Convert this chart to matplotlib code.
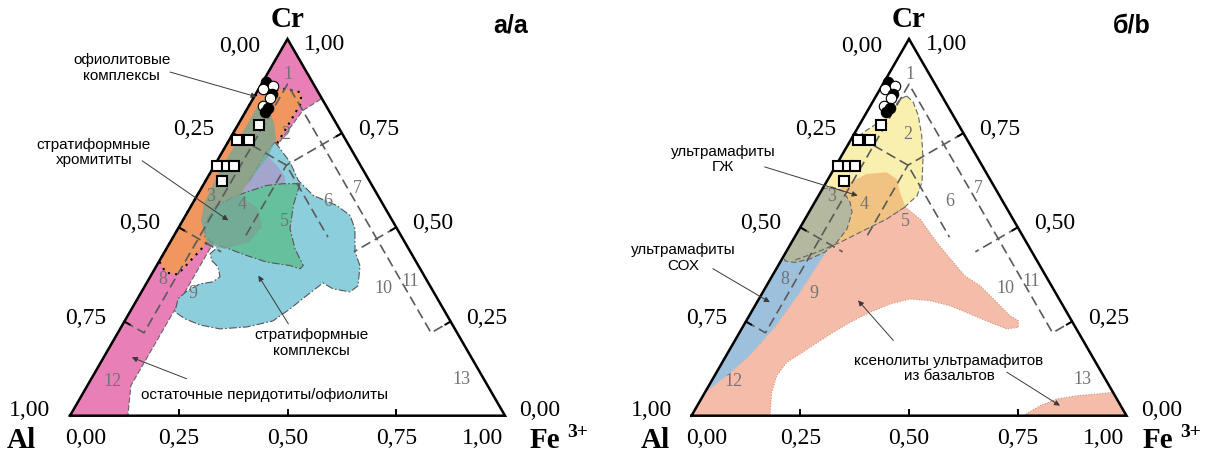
import numpy as np
import matplotlib.pyplot as plt
from matplotlib.patches import Polygon

plt.rcParams['font.family'] = ['Liberation Sans', 'DejaVu Sans']
SERIF = ['Liberation Serif', 'DejaVu Serif']
H = np.sqrt(3) / 2

# every composition below is (Fe3+, Cr) fraction, Al = 1 - Fe3+ - Cr
ticks = [0.0, 0.25, 0.5, 0.75, 1.0]
tick_labels = ["0,00", "0,25", "0,50", "0,75", "1,00"]

field_ids = ["1", "2", "3", "4", "5", "6", "7", "8", "9", "10", "11", "12", "13"]
field_id_fe = [0.048, 0.122, 0.03, 0.115, 0.233, 0.308, 0.356, 0.033, 0.118, 0.55, 0.603, 0.051, 0.851]
field_id_cr = [0.908, 0.748, 0.585, 0.562, 0.518, 0.571, 0.607, 0.363, 0.328, 0.341, 0.358, 0.093, 0.0975]

# dashed boundaries of the numbered fields
bound_fe = [[0.0, 0.06, 0.06, 0.72, 0.75], [0.0, 0.13], [0.5, 0.435],
            [0.25, 0.165, 0.165], [0.06, 0.165, 0.356]]
bound_cr = [[0.25, 0.22, 0.88, 0.22, 0.25], [0.5, 0.435], [0.5, 0.435],
            [0.75, 0.665, 0.474], [0.7175, 0.665, 0.474]]

# samples
square_fe = [0.049, 0.018, 0.045, 0.006, 0.029, 0.045, 0.039]
square_cr = [0.7725, 0.731, 0.731, 0.662, 0.662, 0.662, 0.622]
circle_fe = [0.008, 0.030, 0.011, 0.036, 0.038, 0.032, 0.047, 0.045]
circle_cr = [0.886, 0.875, 0.866, 0.855, 0.8435, 0.822, 0.817, 0.806]
circle_filled = [True, False, False, True, False, False, True, True]

# --- panel a fields
pink_fe = [0.0, 0.158, 0.13, 0.115, 0.10, 0.10, 0.133, 0.0]
pink_cr = [1.0, 0.842, 0.81, 0.70, 0.44, 0.08, 0.0, 0.0]
orange_fe = [0.0, 0.056, 0.099, 0.116, 0.116, 0.115, 0.11, 0.095, 0.08, 0.06, 0.03, 0.0]
orange_cr = [0.85, 0.868, 0.859, 0.833, 0.80, 0.735, 0.6, 0.5, 0.44, 0.375, 0.38, 0.41]
strat_fe = [0.108, 0.169, 0.2126, 0.267, 0.334, 0.378, 0.407, 0.4377, 0.4678, 0.4897, 0.4793,
            0.4362, 0.4053, 0.3825, 0.364, 0.3408, 0.289, 0.2296, 0.1784, 0.1359, 0.1036,
            0.0932, 0.1033, 0.1239, 0.151, 0.1605, 0.1426, 0.1209, 0.107, 0.114, 0.115,
            0.101, 0.1006]
strat_cr = [0.7265, 0.6734, 0.6245, 0.5846, 0.5581, 0.5315, 0.4961, 0.435, 0.3978, 0.3447, 0.3287,
            0.3367, 0.3526, 0.3154, 0.2835, 0.2517, 0.2357, 0.2304, 0.241, 0.257, 0.2756,
            0.3101, 0.3314, 0.35, 0.3553, 0.3686, 0.3952, 0.4111, 0.4297, 0.443, 0.4829,
            0.6025, 0.6955]
lav_fe = [0.1115, 0.1477, 0.1771, 0.1878, 0.1466, 0.1094, 0.0989, 0.0984, 0.1051]
lav_cr = [0.6875, 0.6609, 0.6344, 0.6131, 0.6112, 0.5937, 0.5839, 0.6078, 0.645]
green_fe = [0.2208, 0.1818, 0.1466, 0.1094, 0.0852, 0.056, 0.0556, 0.0729, 0.0953, 0.1189,
            0.1936, 0.2484, 0.3064, 0.3338, 0.337, 0.2957, 0.2577, 0.2343]
green_cr = [0.6158, 0.6158, 0.6112, 0.5937, 0.5804, 0.5546, 0.5094, 0.4749, 0.4608, 0.4518,
            0.4252, 0.4077, 0.3986, 0.3898, 0.3986, 0.443, 0.4961, 0.5581]
chrom_fe = [0.0219, 0.045, 0.0814, 0.106, 0.1115, 0.1051, 0.0984, 0.0989, 0.1575, 0.1906,
            0.183, 0.1348, 0.0904, 0.0424, 0.0267, 0.0225, 0.019, 0.0199, 0.021, 0.0205]
chrom_cr = [0.839, 0.8204, 0.7752, 0.7353, 0.6875, 0.645, 0.6078, 0.5839, 0.5493, 0.5015,
            0.4616, 0.443, 0.4536, 0.5174, 0.5626, 0.6078, 0.6609, 0.7141, 0.7672, 0.8097]

# --- panel b fields
yellow_fe = [0.0705, 0.0939, 0.1232, 0.1576, 0.1914, 0.2197, 0.2268, 0.2187, 0.2138, 0.1876,
             0.149, 0.1114, 0.0709, 0.0283, 0.0, 0.0, 0.0193, 0.0527, 0.059]
yellow_cr = [0.8487, 0.832, 0.7964, 0.7433, 0.6815, 0.6204, 0.5832, 0.5673, 0.554, 0.522,
             0.491, 0.46, 0.4338, 0.4115, 0.42, 0.717, 0.7523, 0.7921, 0.8407]
gzh_fe = [0.0492, 0.0819, 0.1257, 0.1575, 0.1828, 0.2121, 0.1876, 0.149, 0.1114, 0.09, 0.06, 0.03]
gzh_cr = [0.6151, 0.6417, 0.6461, 0.6284, 0.593, 0.5575, 0.522, 0.491, 0.46, 0.48, 0.53, 0.59]
grey_fe = [0.0, 0.0194, 0.05, 0.0807, 0.0986, 0.1097, 0.104, 0.0896, 0.0644, 0.0346, 0.0095, 0.0]
grey_cr = [0.602, 0.6071, 0.5965, 0.5673, 0.5408, 0.4956, 0.4611, 0.4346, 0.416, 0.4067, 0.4107, 0.425]
sox_fe = [0.0, 0.0969, 0.09, 0.0852, 0.0743, 0.052, 0.0257, 0.0]
sox_cr = [0.50, 0.4797, 0.4107, 0.3284, 0.2355, 0.1558, 0.1027, 0.063]
xeno_fe = [0.2138, 0.2642, 0.3335, 0.3982, 0.4433, 0.4906, 0.5511, 0.5994, 0.6252, 0.634, 0.6095,
           0.5623, 0.5052, 0.4483, 0.3957, 0.3474, 0.3081, 0.2731, 0.2405, 0.2153, 0.1959,
           0.1816, 0.1675, 0.148, 0.1428, 0.1533, 0.1805, 0.0, 0.0, 0.0257, 0.052, 0.0743,
           0.0852, 0.09, 0.0969, 0.149, 0.1876]
xeno_cr = [0.554, 0.5222, 0.4603, 0.4072, 0.3709, 0.3451, 0.301, 0.2655, 0.2522, 0.2347, 0.2302,
           0.2479, 0.27, 0.292, 0.3053, 0.3098, 0.2965, 0.2745, 0.2479, 0.2214, 0.1991,
           0.1816, 0.1638, 0.1418, 0.1062, 0.0621, 0.0, 0.0, 0.063, 0.1027, 0.1558, 0.2355,
           0.3284, 0.4107, 0.4797, 0.491, 0.522]
xeno2_fe = [0.7628, 0.7879, 0.8174, 0.859, 0.9027, 0.9379, 1.0]
xeno2_cr = [0.0, 0.0265, 0.0443, 0.0531, 0.0576, 0.0621, 0.0]

DASHDOT = (0, (7, 2, 1.5, 2))


def xy(fe, cr):
    fe = np.asarray(fe, dtype=float)
    cr = np.asarray(cr, dtype=float)
    return fe + cr / 2, cr * H


def field(ax, fe, cr, color, z, edge='none', ls='-', lw=0.8, alpha=1.0):
    x, y = xy(fe, cr)
    ax.add_patch(Polygon(np.column_stack([x, y]), closed=True, facecolor=color, edgecolor=edge,
                         linestyle=ls, linewidth=lw, alpha=alpha, zorder=z))


def note(ax, text, tx, ty, arrows):
    ax.text(tx, ty, text, ha='center', va='center', fontsize=11, linespacing=1.15, zorder=9)
    for (x0, y0), (x1, y1) in arrows:
        ax.annotate('', xy=(x1, y1), xytext=(x0, y0), zorder=9,
                    arrowprops=dict(arrowstyle='-|>', lw=0.7, color='#3a3a3a',
                                    mutation_scale=8, shrinkA=0, shrinkB=0))


def frame(ax, letter, al_x, fe_x):
    # field boundaries and numbers
    for fe, cr in zip(bound_fe, bound_cr):
        x, y = xy(fe, cr)
        ax.plot(x, y, color='#5a5a5a', lw=1.2, ls=(0, (6, 3)), zorder=5)
    x, y = xy(field_id_fe, field_id_cr)
    for xi, yi, s in zip(x, y, field_ids):
        ax.text(xi, yi, s, ha='center', va='center', fontsize=13, color='#737373',
                family=SERIF, zorder=5)

    # triangle + stubs
    x, y = xy([0, 1, 0, 0], [0, 0, 1, 0])
    ax.plot(x, y, color='black', lw=1.8, zorder=6, solid_joinstyle='miter')
    d = 0.014
    for t, lab in zip(ticks, tick_labels):
        # bottom axis: Fe3+
        if 0 < t < 1:
            ax.plot([t, t], [0, d], color='black', lw=1.4, zorder=6)
            ax.text(t, -0.05, lab, ha='center', va='center', fontsize=17, family=SERIF)
        elif t == 0:
            ax.text(-0.012, -0.05, lab, ha='left', va='center', fontsize=17, family=SERIF)
        else:
            ax.text(0.995, -0.05, lab, ha='right', va='center', fontsize=17, family=SERIF)
        # left edge: Al
        px, py = (1 - t) / 2, (1 - t) * H
        if 0 < t < 1:
            ax.plot([px, px + d * H], [py, py - d / 2], color='black', lw=1.4, zorder=6)
            lx, ly = px - 0.09, py + 0.01
        elif t == 0:
            lx, ly = px - 0.109, py - 0.014
        else:
            lx, ly = px - 0.092, py + 0.015
        ax.text(lx, ly, lab, ha='center', va='center', fontsize=17, family=SERIF)
        # right edge: Cr
        px, py = 1 - t / 2, t * H
        if 0 < t < 1:
            ax.plot([px, px - d * H], [py, py - d / 2], color='black', lw=1.4, zorder=6)
            lx, ly = px + 0.084, py + 0.01
        elif t == 1:
            lx, ly = px + 0.086, py - 0.011
        else:
            lx, ly = px + 0.08, py + 0.015
        ax.text(lx, ly, lab, ha='center', va='center', fontsize=17, family=SERIF)

    # samples
    x, y = xy(square_fe, square_cr)
    ax.plot(x, y, 's', ms=7.5, mfc='white', mec='black', mew=1.5, ls='none', zorder=7)
    x, y = xy(circle_fe, circle_cr)
    for xi, yi, f in zip(x, y, circle_filled):
        ax.plot(xi, yi, 'o', ms=7.5, mfc='black' if f else 'white', mec='black', mew=0.8, zorder=7)

    # titles
    ax.text(0.5, 0.912, 'Cr', ha='center', va='center', fontsize=21, fontweight='bold', family=SERIF)
    ax.text(al_x, -0.054, 'Al', ha='center', va='center', fontsize=21, fontweight='bold', family=SERIF)
    ax.text(fe_x, -0.054, 'Fe', ha='center', va='center', fontsize=21, fontweight='bold', family=SERIF)
    ax.text(fe_x + 0.074, -0.036, '3+', ha='center', va='center', fontsize=14, fontweight='bold',
            family=SERIF)
    ax.text(1.013, 0.90, letter, ha='center', va='center', fontsize=18, fontweight='bold')


fig = plt.figure(figsize=(12.07, 4.52), dpi=100)
FW, FHT, L, BASE = 1207.0, 452.0, 435.0, 416.7


def panel(px0, px1, x_al):
    ax = fig.add_axes([px0 / FW, 0, (px1 - px0) / FW, 1])
    ax.set_xlim((px0 - x_al) / L, (px1 - x_al) / L)
    ax.set_ylim((BASE - FHT) / L, BASE / L)
    ax.axis('off')
    return ax


# panel a
ax = panel(0, 600, 70)
field(ax, pink_fe, pink_cr, '#E880B7', 1, edge='#666666', ls=(0, (5, 2)))
field(ax, orange_fe, orange_cr, '#F0965F', 2, edge='black', ls=(0, (1, 2.5)), lw=1.5)
field(ax, strat_fe, strat_cr, '#8DCEDD', 3, edge='#555555', ls=DASHDOT)
field(ax, lav_fe, lav_cr, '#A2A6CD', 3.1)
field(ax, green_fe, green_cr, '#66C09E', 3.2, edge='#555555', ls=DASHDOT)
field(ax, chrom_fe, chrom_cr, '#77A695', 3.3, alpha=0.8)
frame(ax, 'а/a', -0.1126, 1.092)
note(ax, 'офиолитовые\nкомплексы', 0.119, 0.801, [((0.23, 0.79), (0.429, 0.733))])
note(ax, 'стратиформные\nхромититы', 0.055, 0.607, [((0.166, 0.586), (0.364, 0.449))])
note(ax, 'стратиформные\nкомплексы', 0.556, 0.169, [((0.502, 0.211), (0.433, 0.322))])
note(ax, 'остаточные перидотиты/офиолиты', 0.448, 0.05, [((0.268, 0.085), (0.142, 0.134))])

# panel b
ax = panel(600, 1207, 691.5)
field(ax, yellow_fe, yellow_cr, '#F9EFAE', 1, edge='#666666', ls=(0, (5, 2.5)))
field(ax, xeno_fe, xeno_cr, '#F5BDA9', 2, edge='#C99485', ls=(0, (1, 1.5)), lw=0.8)
field(ax, xeno2_fe, xeno2_cr, '#F5BDA9', 2, edge='#C99485', ls=(0, (1, 1.5)), lw=0.8)
field(ax, sox_fe, sox_cr, '#9DC1DD', 2.5)
field(ax, gzh_fe, gzh_cr, '#F0C382', 3)
field(ax, grey_fe, grey_cr, '#B3B89E', 3.2, edge='#666666', ls=(0, (5, 2.5)))
x, y = xy(yellow_fe[8:14], yellow_cr[8:14])
ax.plot(x, y, color='#666666', lw=0.8, ls=(0, (5, 2.5)), zorder=3.5)
frame(ax, 'б/b', -0.0839, 1.0724)
note(ax, 'ультрамафиты\nГЖ', 0.073, 0.591, [((0.168, 0.572), (0.382, 0.506))])
note(ax, 'ультрамафиты\nСОХ', -0.018, 0.365, [((0.049, 0.338), (0.18, 0.261))])
note(ax, 'ксенолиты ультрамафитов\nиз базальтов', 0.592, 0.111,
     [((0.464, 0.173), (0.383, 0.265)), ((0.725, 0.1), (0.847, 0.023))])

fig.savefig('out.png', dpi=100)
